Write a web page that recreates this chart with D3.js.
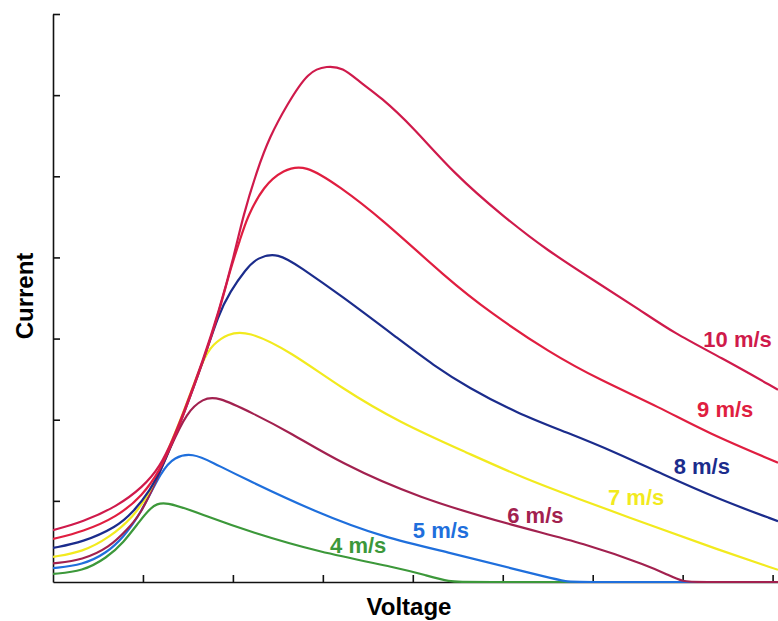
<!DOCTYPE html>
<html>
<head>
    <meta charset="utf-8" />
    <title>Current vs Voltage</title>
    <style>
        body { margin: 0; background: #fff; }
    </style>
</head>
<body>
<script src="https://d3js.org/d3.v7.min.js"></script>
<script>
    // curves, [voltage, current] in axis units
    var s4  = [[0,0.10],[0.33,0.13],[0.60,0.30],[0.78,0.48],[0.97,0.76],[1.08,0.91],[1.22,1.02],[1.75,0.79],[2.19,0.62],[2.94,0.37],[3.86,0.17],[4.15,0.08],[4.42,0],[4.55,0],[8.06,0]];
    var s5  = [[0,0.17],[0.33,0.21],[0.60,0.36],[0.78,0.55],[0.97,0.83],[1.21,1.38],[1.35,1.54],[1.55,1.59],[1.78,1.47],[2.08,1.30],[2.94,0.85],[3.67,0.55],[4.42,0.36],[5.16,0.15],[5.45,0.07],[5.72,0],[5.85,0],[8.06,0]];
    var s6  = [[0,0.23],[0.33,0.27],[0.63,0.43],[0.82,0.64],[0.97,0.83],[1.13,1.20],[1.30,1.65],[1.49,2.10],[1.67,2.26],[1.82,2.29],[2.22,2.08],[2.64,1.84],[3.19,1.47],[4.05,1.04],[5.16,0.68],[5.90,0.48],[6.64,0.19],[6.83,0.09],[7.01,0],[7.15,0],[8.06,0]];
    var s7  = [[0,0.31],[0.33,0.37],[0.63,0.55],[0.89,0.80],[1.08,1.10],[1.25,1.55],[1.45,2.08],[1.67,2.76],[1.78,2.93],[1.94,3.06],[2.16,3.10],[2.64,2.84],[3.19,2.40],[3.86,1.96],[4.61,1.59],[5.23,1.28],[5.78,1.05],[6.64,0.70],[7.39,0.40],[8.06,0.15]];
    var s8  = [[0,0.42],[0.33,0.49],[0.71,0.68],[0.89,0.86],[1.08,1.13],[1.22,1.42],[1.45,2.06],[1.67,2.72],[1.84,3.30],[1.97,3.58],[2.14,3.85],[2.27,4.00],[2.50,4.06],[2.75,3.88],[3.19,3.54],[3.86,2.98],[4.23,2.67],[4.61,2.40],[5.16,2.08],[5.72,1.84],[6.27,1.59],[6.75,1.34],[7.42,1.01],[8.06,0.75]];
    var s9  = [[0,0.53],[0.33,0.62],[0.71,0.80],[1.0,1.07],[1.19,1.38],[1.33,1.72],[1.45,2.06],[1.67,2.72],[1.84,3.30],[1.97,3.85],[2.08,4.22],[2.16,4.50],[2.34,4.88],[2.56,5.08],[2.80,5.15],[3.19,4.87],[3.64,4.49],[4.38,3.74],[4.86,3.32],[5.53,2.82],[6.08,2.49],[6.75,2.15],[7.27,1.84],[8.06,1.47]];
    var s10 = [[0,0.64],[0.33,0.74],[0.71,0.93],[1.0,1.17],[1.19,1.42],[1.33,1.75],[1.45,2.08],[1.67,2.74],[1.84,3.32],[2.02,4.05],[2.11,4.50],[2.27,5.08],[2.41,5.49],[2.60,5.88],[2.84,6.30],[3.05,6.36],[3.22,6.34],[3.40,6.17],[3.64,5.98],[4.00,5.61],[4.45,5.04],[5.01,4.50],[5.49,4.09],[6.05,3.69],[6.53,3.35],[6.90,3.07],[7.42,2.77],[8.06,2.37]];

    var labels   = ["4 m/s", "5 m/s", "6 m/s", "7 m/s", "8 m/s", "9 m/s", "10 m/s"];
    // where each label starts, in axis units
    var labelPos = [[3.08,0.36],[4.00,0.54],[5.05,0.73],[6.17,0.95],[6.90,1.33],[7.16,2.03],[7.23,2.89]];
    var xTicks = [1, 2, 3, 4, 5, 6, 7, 8];
    var yTicks = [1, 2, 3, 4, 5, 6, 7];

    var curves = [s4, s5, s6, s7, s8, s9, s10];
    var colors = ["#3c983a", "#1f6fdc", "#a2214f", "#f2ea1e", "#1b2c8c", "#e01e40", "#cf1a4b"];

    var width = 778;
    var height = 621;
    var margin = {"left": 53, "right": 0, "top": 14, "bottom": 39};

    var svg = d3.select("body").append("svg")
                .attr("width", width)
                .attr("height", height)
                .style("background", "#fff");

    var xScaler = d3.scaleLinear()
                    .domain([0, 8.06])
                    .range([margin.left, width - margin.right]);

    var yScaler = d3.scaleLinear()
                    .domain([0, 7])
                    .range([height - margin.bottom, margin.top]);

    var xAxis = d3.axisBottom(xScaler)
                  .tickValues(xTicks)
                  .tickSizeInner(-7)
                  .tickSizeOuter(0)
                  .tickFormat("");

    var yAxis = d3.axisLeft(yScaler)
                  .tickValues(yTicks)
                  .tickSizeInner(-7)
                  .tickSizeOuter(0)
                  .tickFormat("");

    var xg = svg.append("g")
                .attr("transform", "translate(0," + (height - margin.bottom) + ")")
                .call(xAxis);

    var yg = svg.append("g")
                .attr("transform", "translate(" + margin.left + ",0)")
                .call(yAxis);

    [xg, yg].forEach(function(g) {
        g.selectAll("path, line")
         .attr("stroke", "#111")
         .attr("stroke-width", 1.6);
    });

    svg.append("clipPath")
       .attr("id", "plot")
       .append("rect")
       .attr("x", margin.left)
       .attr("y", 0)
       .attr("width", width - margin.left)
       .attr("height", yScaler(0) + 1.2);

    // basis smoothing irons out the reading noise in the points
    var lineGenerator = d3.line()
                          .x(d => xScaler(d[0]))
                          .y(d => yScaler(d[1]))
                          .curve(d3.curveBasis);

    // curves go over the axis so the flat tails show in colour
    svg.append("g")
       .attr("clip-path", "url(#plot)")
       .selectAll("path")
       .data(curves)
       .enter().append("path")
       .attr("d", d => lineGenerator(d))
       .style("fill", "none")
       .style("stroke", (d, i) => colors[i])
       .style("stroke-width", "2.2px")
       .style("stroke-linejoin", "round");

    svg.append("g")
       .selectAll("text")
       .data(labels)
       .enter().append("text")
       .attr("x", (d, i) => xScaler(labelPos[i][0]))
       .attr("y", (d, i) => yScaler(labelPos[i][1]))
       .style("font-family", "'Liberation Sans', Arial, sans-serif")
       .style("font-weight", "bold")
       .style("font-size", "22px")
       .style("fill", (d, i) => colors[i])
       .text(d => d);

    svg.append("text")
       .attr("x", 409)
       .attr("y", 615)
       .style("text-anchor", "middle")
       .style("font-family", "'Liberation Sans', Arial, sans-serif")
       .style("font-weight", "bold")
       .style("font-size", "24px")
       .text("Voltage");

    svg.append("text")
       .attr("transform", "translate(33,296) rotate(-90)")
       .style("text-anchor", "middle")
       .style("font-family", "'Liberation Sans', Arial, sans-serif")
       .style("font-weight", "bold")
       .style("font-size", "24px")
       .text("Current");
</script>
</body>
</html>
